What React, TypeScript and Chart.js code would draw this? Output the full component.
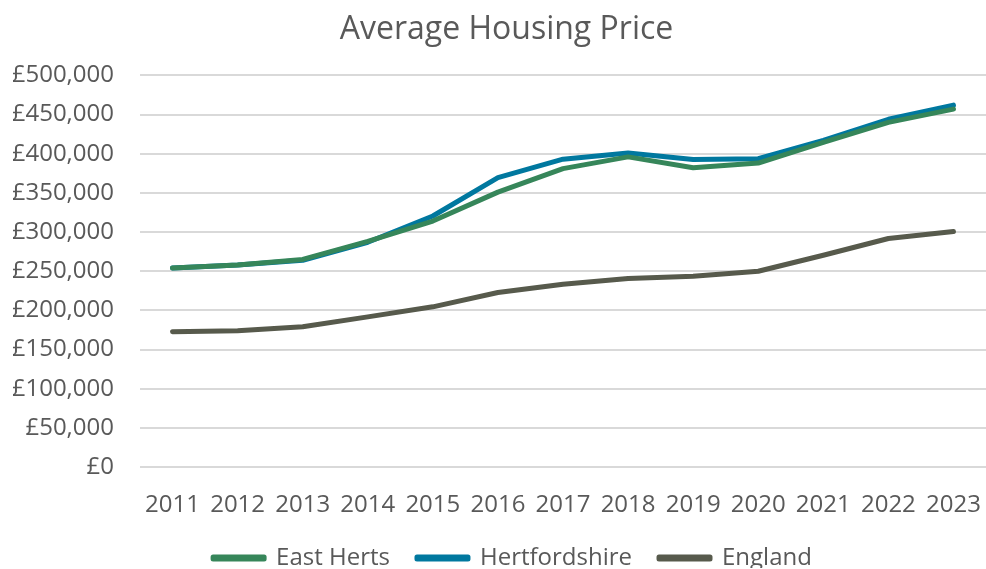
import React, { useEffect, useRef } from "react";
import { Chart, registerables } from "chart.js";

Chart.register(...registerables);

const years = ["2011", "2012", "2013", "2014", "2015", "2016", "2017", "2018", "2019", "2020", "2021", "2022", "2023"];
const eastHerts = [254000, 258000, 265000, 288000, 314000, 351000, 381000, 396000, 382000, 388000, 414500, 440000, 457000];
const hertfordshire = [254000, 258000, 264000, 287000, 320500, 369500, 393000, 401000, 392500, 393700, 417000, 444000, 462000];
const england = [172600, 174000, 179000, 191700, 204500, 222800, 233400, 240600, 243600, 250000, 270400, 291700, 300600];

const TEXT = "#595959";
const FONT = "'Open Sans', sans-serif";
const LEGEND_PAD = 27;

export default function App() {
  const ref = useRef<HTMLCanvasElement | null>(null);
  useEffect(() => {
    document.body.style.margin = "0";
    if (!ref.current) return;
    const mk = (label: string, data: number[], color: string) => ({
      label,
      data,
      borderColor: color,
      backgroundColor: color,
      borderWidth: 5,
      pointRadius: 0,
      tension: 0,
      borderCapStyle: "round" as const,
      borderJoinStyle: "round" as const,
    });
    const layoutTweak = {
      id: "layoutTweak",
      beforeLayout(c: any) {
        const lg = c.legend;
        if (lg && !lg._patched) {
          const orig = lg.fit.bind(lg);
          lg.fit = () => {
            orig();
            lg.height = 49;
          };
          lg._patched = true;
        }
      },
      afterLayout(c: any) {
        const lg = c.legend;
        if (lg) {
          const dx = 13;
          lg.left += dx;
          lg.right += dx;
          const h = lg.bottom - lg.top;
          lg.top = 558 - 12 - LEGEND_PAD;
          lg.bottom = lg.top + h;
        }
        const t = c.titleBlock;
        if (t) {
          t.left += 7;
          t.right += 7;
        }
      },
    };
    const chart = new Chart(ref.current, {
      type: "line",
      data: {
        labels: years,
        datasets: [
          mk("East Herts", eastHerts, "#36865a"),
          mk("Hertfordshire", hertfordshire, "#00789f"),
          mk("England", england, "#575a4c"),
        ],
      },
      plugins: [layoutTweak],
      options: {
        animation: false,
        responsive: false,
        layout: { padding: { left: 13, right: 0, top: 0, bottom: 0 } },
        plugins: {
          title: {
            display: true,
            text: "Average Housing Price",
            color: TEXT,
            font: { family: FONT, size: 32, weight: "normal" },
            padding: { top: 11, bottom: 26 },
          },
          legend: {
            position: "bottom",
            labels: {
              color: TEXT,
              font: { family: FONT, size: 24 },
              boxWidth: 51,
              boxHeight: 2,
              padding: LEGEND_PAD,
            },
          },
          tooltip: { enabled: false },
        },
        scales: {
          x: {
            offset: true,
            grid: { display: false, drawTicks: false },
            border: { display: false },
            ticks: { color: TEXT, font: { family: FONT, size: 24 }, padding: 24, maxRotation: 0, autoSkip: false },
            afterFit: (s: any) => {
              s.height = 53;
              s.paddingLeft = 0;
              s.paddingRight = 0;
            },
          },
          y: {
            min: 0,
            max: 500000,
            grid: { color: "#d9d9d9", lineWidth: 2, drawTicks: false },
            border: { display: false },
            ticks: {
              stepSize: 50000,
              color: TEXT,
              font: { family: FONT, size: 24 },
              padding: 26,
              callback: (v: any) => "£" + Number(v).toLocaleString("en-GB"),
            },
            afterFit: (s: any) => {
              s.width = 127;
            },
          },
        },
      },
    });
    return () => chart.destroy();
  }, []);
  return (
    <div style={{ position: "fixed", left: 0, top: 0, width: 986, height: 569, background: "#fff", overflow: "hidden" }}>
      <canvas ref={ref} width={986} height={569} style={{ width: 986, height: 569 }} />
    </div>
  );
}
